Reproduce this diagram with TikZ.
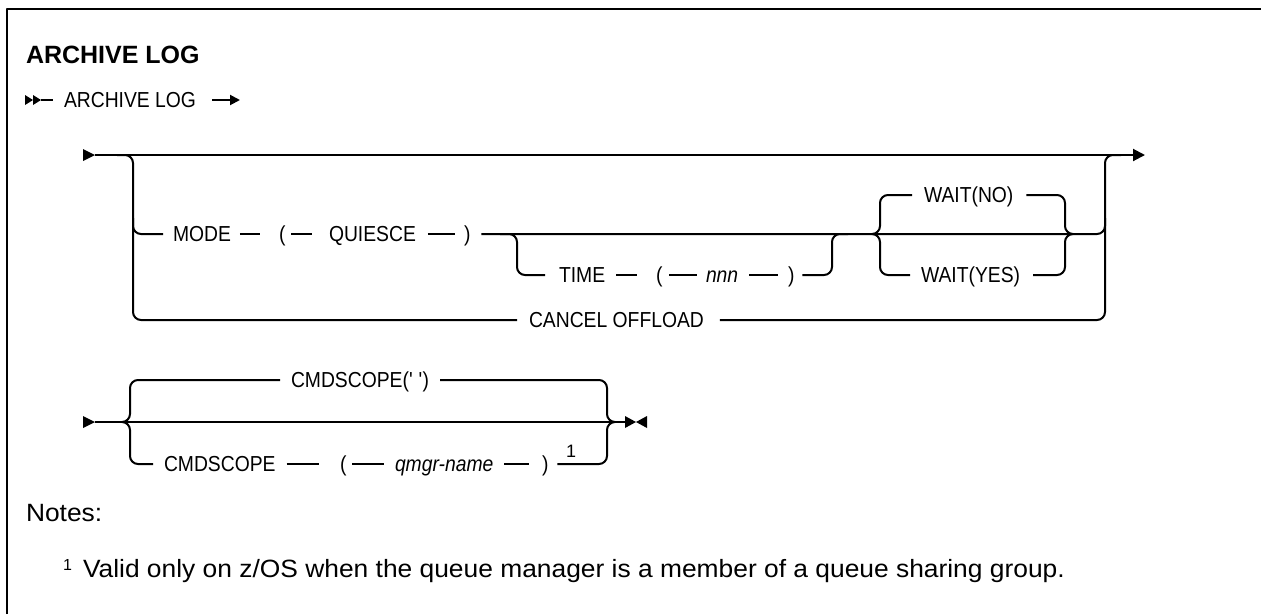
\documentclass[tikz,border=0pt]{standalone}
\usepackage{fontspec}
\setmainfont{Liberation Sans}
\newfontfamily\dfam[FakeStretch=0.89]{Liberation Sans}
\newfontfamily\nfam[FakeStretch=1.055]{Liberation Sans}
\usetikzlibrary{arrows.meta}
\newcommand\dfont{\dfam\fontsize{21.7pt}{26pt}\selectfont}
\newcommand\nfont{\nfam\fontsize{25pt}{30pt}\selectfont}
\begin{document}
\begin{tikzpicture}[x=1pt,y=-1pt,line width=2pt,line join=round,
  lbl/.style={anchor=west,inner sep=0pt,font=\dfont,text height=15.5pt,text depth=0pt},
  rc/.style={rounded corners=8pt},
  endarrow/.style={-{Triangle[length=12pt,width=12pt]}},
  smallarrow/.style={-{Triangle[length=10pt,width=10pt]}},
  txt/.style={anchor=base west,inner sep=0pt},
]
\useasboundingbox (0,0) rectangle (1261,614);
% frame
\coordinate (fr1) at (7,614); \coordinate (fr2) at (7,9); \coordinate (fr3) at (1261,9);
\draw (fr1) -- (fr2) -- (fr3);
% title
\node[txt,font=\bfseries\fontsize{25pt}{30pt}\selectfont] (title) at (25,63) {ARCHIVE LOG};
% line 2
\fill (25,95) -- (33,100) -- (25,105) -- cycle;
\fill (33,95) -- (41,100) -- (33,105) -- cycle;
\coordinate (s0) at (41,100);
\node[lbl] (al) at (63,100) {ARCHIVE LOG};
\coordinate (s1) at (240,100);
\draw (s0) -- ([xshift=-10pt]al.west);
\draw[smallarrow] ([xshift=15pt]al.east) -- (s1);
% ---------- row 1 ----------
\fill (83,149) -- (95,155) -- (83,161) -- cycle;
\coordinate (r1a) at (95,155); \coordinate (r1b) at (1145,155);
\draw[endarrow] (r1a) -- (r1b);
% nodes
\node[lbl] (mode) at (172,234) {MODE};
\node[lbl] (lp1) at (278,234) {(};
\node[lbl] (quiesce) at (328,234) {QUIESCE};
\node[lbl] (rp1) at (463,234) {)};
\node[lbl] (time) at (558,275) {TIME};
\node[lbl] (lp2) at (655,275) {(};
\node[lbl] (nnn) at (705,275) {\itshape nnn};
\node[lbl] (rp2) at (787,275) {)};
\node[lbl] (waitno) at (923,195) {WAIT(NO)};
\node[lbl] (waityes) at (920,275) {WAIT(YES)};
\node[lbl] (cancel) at (528,320) {CANCEL OFFLOAD};
% big group
\coordinate (g1a) at (117,155); \coordinate (g1b) at (133,155); \coordinate (g1c) at (133,320);
\coordinate (g1d) at (1105,320); \coordinate (g1e) at (1105,155); \coordinate (g1f) at (1121,155);
\draw[rc] (g1a) -- (g1b) -- (g1c) -- ([xshift=-11pt]cancel.west);
\draw[rc] ([xshift=15pt]cancel.east) -- (g1d) -- (g1e) -- (g1f);
% MODE row
\coordinate (mj0) at (133,218); \coordinate (mj1) at (133,234);
\draw[rc] (mj0) -- (mj1) -- ([xshift=-9pt]mode.west);
\draw ([xshift=8pt]mode.east) -- ([xshift=-18pt]lp1.west);
\draw ([xshift=5pt]lp1.east) -- ([xshift=-16pt]quiesce.west);
\draw ([xshift=11pt]quiesce.east) -- ([xshift=-8pt]rp1.west);
\coordinate (rj1) at (1105,234); \coordinate (rj2) at (1105,218);
\draw[rc] ([xshift=10pt]rp1.east) -- (rj1) -- (rj2);
% TIME branch
\coordinate (tb0) at (500,234); \coordinate (tb1) at (517,234); \coordinate (tb2) at (517,275);
\draw[rc] (tb0) -- (tb1) -- (tb2) -- ([xshift=-13pt]time.west);
\draw ([xshift=10pt]time.east) -- ([xshift=-18pt]lp2.west);
\draw ([xshift=6pt]lp2.east) -- ([xshift=-8pt]nnn.west);
\draw ([xshift=10pt]nnn.east) -- ([xshift=-9pt]rp2.west);
\coordinate (tj1) at (832,275); \coordinate (tj2) at (832,234); \coordinate (tj3) at (848,234);
\draw[rc] ([xshift=7pt]rp2.east) -- (tj1) -- (tj2) -- (tj3);
% WAIT group
\coordinate (wl1) at (880,195); \coordinate (wl2) at (880,234); \coordinate (wl3) at (872,234); \coordinate (wl4) at (880,275);
\coordinate (wr1) at (1065,195); \coordinate (wr2) at (1065,234); \coordinate (wr3) at (1073,234); \coordinate (wr4) at (1065,275);
\draw[rc] ([xshift=-11pt]waitno.west) -- (wl1) -- (wl2) -- (wl3);
\draw[rc] ([xshift=-10pt]waityes.west) -- (wl4) -- (wl2) -- (wl3);
\draw[rc] ([xshift=12pt]waitno.east) -- (wr1) -- (wr2) -- (wr3);
\draw[rc] ([xshift=12pt]waityes.east) -- (wr4) -- (wr2) -- (wr3);
% ---------- row 2 ----------
\fill (83,416) -- (95,422) -- (83,428) -- cycle;
\coordinate (m2a) at (95,422); \coordinate (m2b) at (625,422);
\draw (m2a) -- (m2b);
\fill (625,416) -- (636,422) -- (625,428) -- cycle;
\fill (647,416) -- (636,422) -- (647,428) -- cycle;
\node[lbl] (cmdq) at (290,380) {CMDSCOPE(\textquotesingle\ \textquotesingle)};
\node[lbl] (cmd) at (163,464) {CMDSCOPE};
\node[lbl] (lp3) at (339,464) {(};
\node[lbl] (qm) at (394,464) {\itshape qmgr-name};
\node[lbl] (rp3) at (541,464) {)};
\node[txt,font=\fontsize{18pt}{21pt}\selectfont] (sup1) at (565,457) {1};
\coordinate (bl1) at (130,380); \coordinate (bl2) at (130,422); \coordinate (bl3) at (122,422); \coordinate (bl4) at (130,464);
\coordinate (br1) at (607,380); \coordinate (br2) at (607,422); \coordinate (br3) at (615,422); \coordinate (br4) at (607,464);
\draw[rc] ([xshift=-10pt]cmdq.west) -- (bl1) -- (bl2) -- (bl3);
\draw[rc] ([xshift=-10pt]cmd.west) -- (bl4) -- (bl2) -- (bl3);
\draw[rc] ([xshift=10pt]cmdq.east) -- (br1) -- (br2) -- (br3);
\draw[rc] ([xshift=8pt]rp3.east) -- (br4) -- (br2) -- (br3);
\draw ([xshift=10pt]cmd.east) -- ([xshift=-20pt]lp3.west);
\draw ([xshift=5pt]lp3.east) -- ([xshift=-10pt]qm.west);
\draw ([xshift=10pt]qm.east) -- ([xshift=-12pt]rp3.west);
% notes
\node[txt,font=\nfont] (notes) at (25,521) {Notes:};
\node[txt,font=\fontsize{16pt}{19pt}\selectfont] (fn1) at (62,570) {1};
\node[txt,font=\nfont] (fn) at (82,577) {Valid only on z/OS when the queue manager is a member of a queue sharing group.};
\end{tikzpicture}
\end{document}
